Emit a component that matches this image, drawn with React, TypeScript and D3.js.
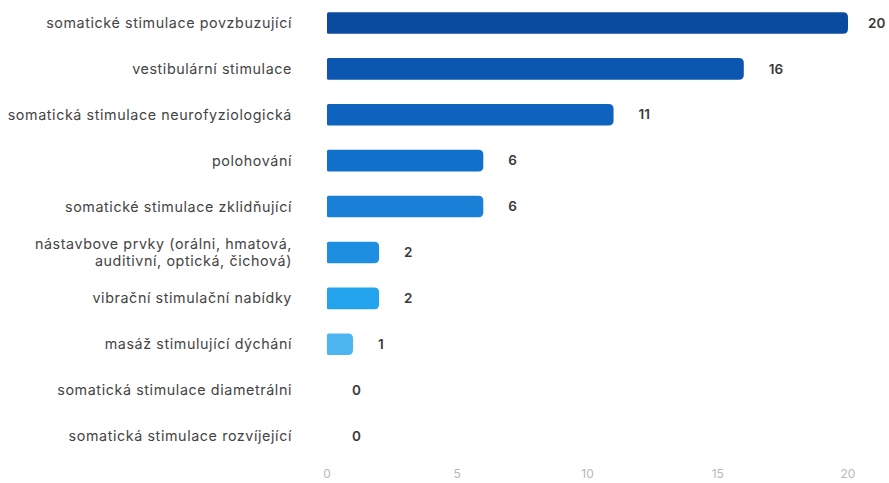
import React from "react";
import * as d3 from "d3";

const categories: string[][] = [
  ["somatické stimulace povzbuzující"],
  ["vestibulární stimulace"],
  ["somatická stimulace neurofyziologická"],
  ["polohování"],
  ["somatické stimulace zklidňující"],
  ["nástavbove prvky (orálni, hmatová,", "auditivní, optická, čichová)"],
  ["vibrační stimulační nabídky"],
  ["masáž stimulující dýchání"],
  ["somatická stimulace diametrálni"],
  ["somatická stimulace rozvíjející"],
];
const values: number[] = [20, 16, 11, 6, 6, 2, 2, 1, 0, 0];
const barColors: string[] = [
  "#0b4b9f", "#0b57b0", "#0e63be", "#1170cb", "#1a80d8",
  "#1e8fe0", "#22a3ec", "#4db5ef", "#5bc0f2", "#5bc0f2",
];
const tickValues: number[] = [0, 5, 10, 15, 20];

const W = 889;
const H = 483;

function barPath(x0: number, x1: number, y: number, h: number, r: number, rl: number) {
  const w = x1 - x0;
  if (w <= 0) return "";
  const rr = Math.min(r, w / 2, h / 2);
  const lr = Math.min(rl, w / 2, h / 2);
  return `M${x0 + lr},${y} H${x1 - rr} Q${x1},${y} ${x1},${y + rr} V${y + h - rr} Q${x1},${y + h} ${x1 - rr},${y + h} H${x0 + lr} Q${x0},${y + h} ${x0},${y + h - lr} V${y + lr} Q${x0},${y} ${x0 + lr},${y} Z`;
}

export default function App() {
  const x = d3.scaleLinear().domain([0, 20]).range([327, 848]);
  const idx = values.map((_, i) => String(i));
  const y = d3.scaleBand().domain(idx).range([0, 459]).paddingInner(0.53).paddingOuter(0.265);
  const bw = y.bandwidth();
  const font = "Inter, 'Noto Sans', Arial, sans-serif";
  return (
    <div style={{ position: "absolute", left: 0, top: 0 }}>
      <svg width={W} height={H} style={{ display: "block", background: "#fff" }}>
        {values.map((v, i) => {
          const yt = y(String(i))!;
          const cy = yt + bw / 2;
          const lines = categories[i];
          return (
            <g key={i}>
              <path d={barPath(x(0), x(v), yt, bw, 5, 1.5)} fill={barColors[i]} />
              <text
                x={Math.min(x(v) + 25, W - 21)}
                y={cy}
                dy="0.35em"
                fontFamily={font}
                fontSize={13.5}
                fontWeight={600}
                fill="#3a3a3a"
              >
                {v}
              </text>
              {lines.map((ln, j) => (
                <text
                  key={j}
                  x={292}
                  y={cy + (j - (lines.length - 1) / 2) * 17}
                  dy="0.35em"
                  textAnchor="end"
                  fontFamily={font}
                  fontSize={14.3}
                  letterSpacing={0.6}
                  fill="#444"
                >
                  {ln}
                </text>
              ))}
            </g>
          );
        })}
        {tickValues.map((t) => (
          <text
            key={t}
            x={x(t)}
            y={478}
            textAnchor="middle"
            fontFamily={font}
            fontSize={12}
            fill="#b8b8b8"
          >
            {t}
          </text>
        ))}
      </svg>
    </div>
  );
}
